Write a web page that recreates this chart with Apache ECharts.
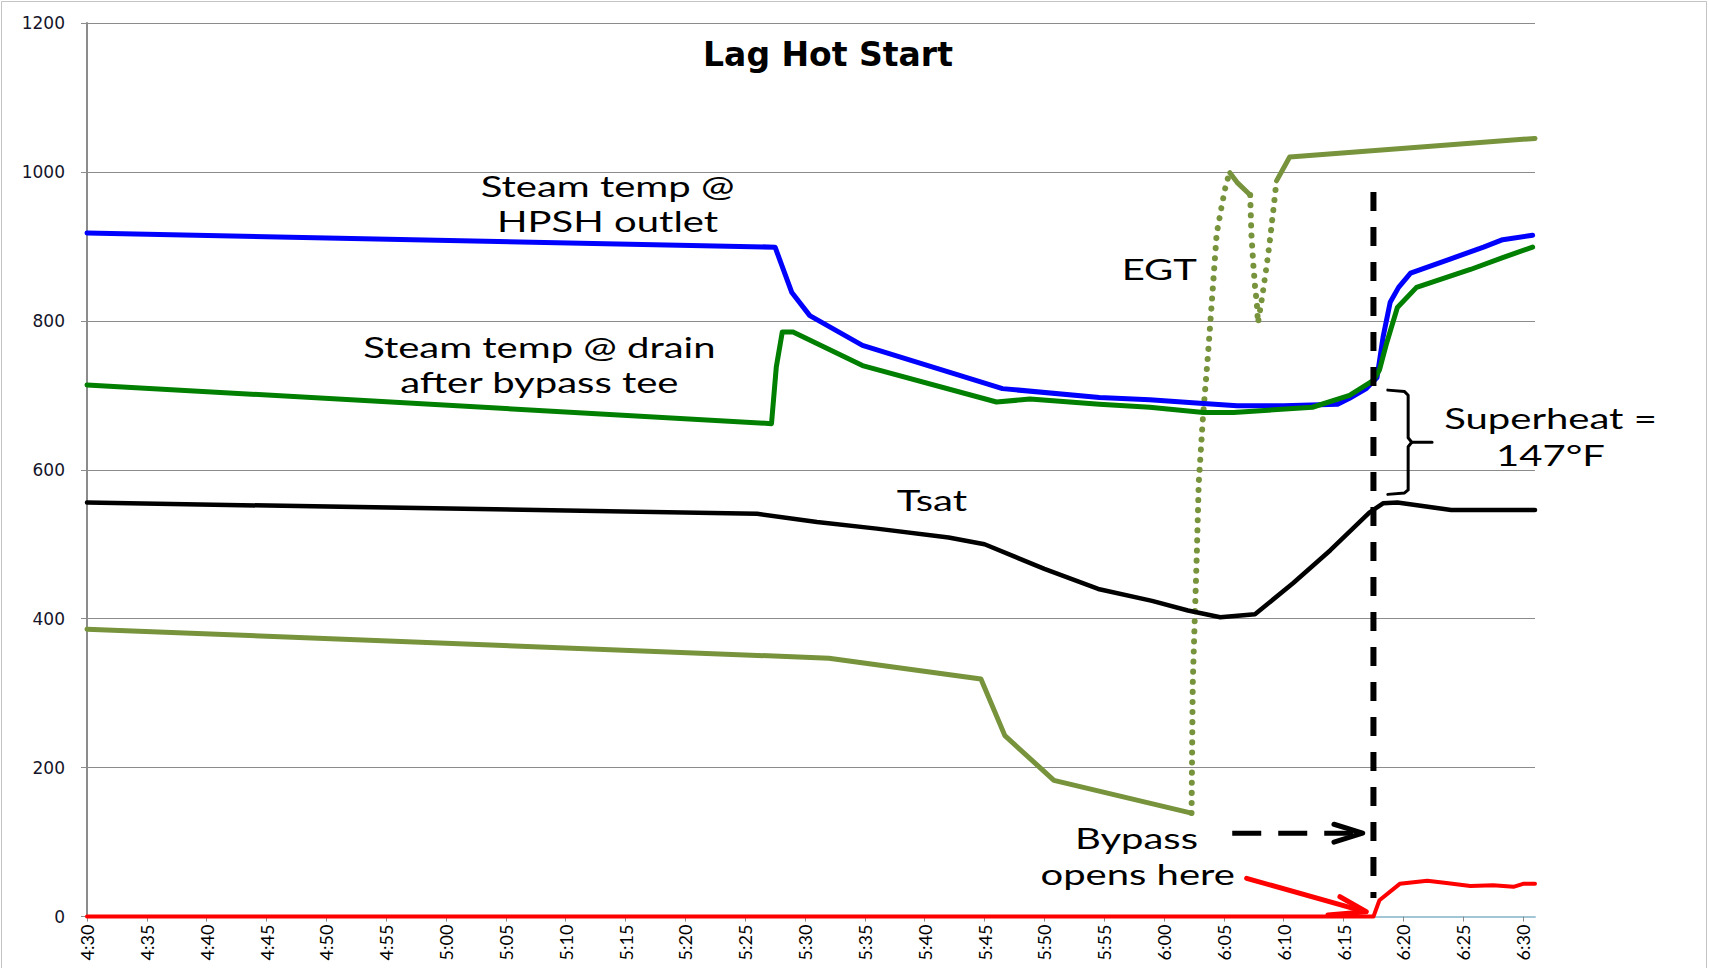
<!DOCTYPE html>
<html><head><meta charset="utf-8">
<script src="https://cdn.jsdelivr.net/npm/echarts@6/dist/echarts.min.js"></script>
<style>html,body{margin:0;padding:0;background:#fff}#c{width:1709px;height:968px}</style>
</head><body><div id="c"></div><script>
// x values are minutes after 4:30
const tickLabels = ['4:30','4:35','4:40','4:45','4:50','4:55','5:00','5:05','5:10','5:15','5:20','5:25','5:30','5:35','5:40','5:45','5:50','5:55','6:00','6:05','6:10','6:15','6:20','6:25','6:30'];
const yTicks = [0,200,400,600,800,1000,1200];

const hpshOutlet = [[0,918],[57.5,899],[58.9,838],[60.4,807],[64.8,767],[76.5,709],[84.6,697],[88.8,694],[93.3,689],[96.1,686],[100,686],[104.5,688],[105.5,696],[106.9,709],[107.8,724],[108.3,778],[108.9,825],[109.6,845],[110.6,864],[113.9,883],[116.7,899],[118.3,909],[120.8,915]];
const drainAfterTee = [[0,714],[57.2,662],[57.6,738],[58.1,785],[59,785],[64.8,740],[76,691],[78.8,695],[84.6,688],[88.8,684],[93.3,677],[95.8,677],[102.4,684],[105.5,700],[107.5,720],[108,734],[108.6,770],[109.5,818],[111.1,845],[115.6,869],[118.3,885],[120.8,899]];
const tsat = [[0,556],[56,541],[61,530],[66,521],[72,509],[75,500],[80,467],[84.5,440],[89,424],[92,411],[94.7,402],[97.6,406],[100.8,448],[103.9,492],[107.2,543],[108.3,555],[109.5,556],[114,546],[121,546]];
const egtSolid1 = [[0,386],[62,347],[74.7,319],[76.7,243],[80.8,183],[92.3,139]];
const egtDotted1 = [[92.3,139],[92.4,313],[92.75,493],[92.9,582],[93.25,670],[93.7,760],[94.1,849],[94.4,917],[94.85,957],[95.2,985],[95.5,999]];
const egtSolid2 = [[95.5,999],[96.1,986],[97.2,969]];
const egtDotted2 = [[97.2,969],[97.3,917],[97.45,878],[97.6,847],[97.75,825],[97.85,797],[98.2,832],[98.6,877],[98.85,908],[99.1,944],[99.4,988]];
const egtSolid3 = [[99.4,988],[100.5,1020],[121,1045]];
const bypassValve = [[0,0],[107.5,0],[108,22],[109.7,44],[112,48],[113.6,45],[115.6,41],[117.5,42],[119.2,40],[120,44],[121,44]];

// annotation geometry (data coordinates)
const bypassLine = [[107.5,973],[107.5,25]];
const dashArrow = [[95.7,112],[106.4,112]];
const dashArrowHead = [[104.2,124],[106.6,112],[104.2,100]];
const redArrow = [[96.9,51.4],[106.7,7]];
const redArrowHead = [[104.7,26.7],[106.9,6.6],[103.7,2.1]];
const braceTop = [[108.7,707],[110.1,705],[110.4,700],[110.4,643],[110.7,637],[112.4,637]];
const braceBottom = [[110.7,637],[110.4,631],[110.4,573],[110.1,569],[108.7,567]];
const noteTexts = ['Steam temp @','HPSH outlet','Steam temp @ drain','after bypass tee','EGT','Tsat','Superheat =','147°F','Bypass','opens here'];
const noteAnchors = [[43.5,981],[43.5,934],[37.8,765],[37.8,718],[89.6,870],[70.6,559],[122.3,670],[122.3,620],[87.7,106],[87.8,57]];

const OLIVE = '#77933C';
function lineSeries(name, data, color, width, type, z) {
  return {name, type:'line', data, symbol:'none', clip:false, z: z || 2, silent:true,
    lineStyle:{color, width, type: type || 'solid', cap:'round', join:'round'}};
}
const chart = echarts.init(document.getElementById('c'), null, {renderer:'svg'});
chart.setOption({
  animation:false,
  backgroundColor:'#fff',
  title:{text:'Lag Hot Start', left:823, top:33, textAlign:'center',
    textStyle:{fontFamily:'DejaVu Sans', fontWeight:'bold', fontSize:33, color:'#000'}},
  graphic:[{type:'rect', shape:{x:1.5,y:1.5,width:1705,height:1000}, style:{fill:null, stroke:'#c4c4c4', lineWidth:1}, silent:true}],
  grid:{left:87, right:174, top:23, bottom:51.4},
  xAxis:{type:'value', min:0, max:121,
    axisLine:{show:true, lineStyle:{color:'#a3c6d6', width:2}},
    axisTick:{show:true, length:5, lineStyle:{color:'#8a8a8a', width:1}, customValues: tickLabels.map((_, i) => i*5)},
    axisLabel:{rotate:90, margin:8, fontFamily:'Lato', fontSize:18, color:'#000',
      customValues: tickLabels.map((_, i) => i*5), formatter: v => tickLabels[Math.round(v/5)] || ''},
    splitLine:{show:false}},
  yAxis:{type:'value', min:yTicks[0], max:yTicks[yTicks.length-1], interval:200,
    axisLine:{show:true, lineStyle:{color:'#8c8c8c', width:2}},
    axisTick:{show:true, length:6, lineStyle:{color:'#8c8c8c'}},
    axisLabel:{margin:22, fontFamily:'DejaVu Sans', fontSize:17, color:'#14142a', formatter: v => String(v)},
    splitLine:{show:true, lineStyle:{color:'#8c8c8c', width:1}}},
  series:[
    lineSeries('EGT', egtSolid1, OLIVE, 5),
    lineSeries('EGT dotted', egtDotted1, OLIVE, 6, [0.1, 10]),
    lineSeries('EGT 2', egtSolid2, OLIVE, 5),
    lineSeries('EGT dotted 2', egtDotted2, OLIVE, 6, [0.1, 10]),
    lineSeries('EGT 3', egtSolid3, OLIVE, 5),
    lineSeries('Tsat', tsat, '#000000', 4.5),
    lineSeries('Steam temp @ HPSH outlet', hpshOutlet, '#0000FF', 5),
    lineSeries('Steam temp @ drain after bypass tee', drainAfterTee, '#007F00', 5, null, 3),
    lineSeries('Bypass valve', bypassValve, '#FF0000', 4, null, 4),
    {type:'line', data:bypassLine, symbol:'none', clip:false, z:6, silent:true,
      lineStyle:{color:'#000', width:6, type:[19,16], cap:'butt'}},
    {type:'line', data:dashArrow, symbol:'none', clip:false, z:6, silent:true,
      lineStyle:{color:'#000', width:5, type:[29,17], cap:'butt'}},
    lineSeries('arrow head', dashArrowHead, '#000', 5, null, 6),
    lineSeries('red arrow', redArrow, '#FF0000', 5, null, 6),
    lineSeries('red arrow head', redArrowHead, '#FF0000', 5, null, 6),
    lineSeries('brace top', braceTop, '#000', 3, null, 6),
    lineSeries('brace bottom', braceBottom, '#000', 3, null, 6),
    {type:'custom', clip:false, z:10, silent:true, data:noteAnchors,
      renderItem:(params, api) => {
        const p = api.coord([api.value(0), api.value(1)]);
        return {type:'text', x:p[0], y:p[1], scaleX:1.43,
          style:{text:noteTexts[params.dataIndex], fill:'#000', font:'28px Lato', align:'center', verticalAlign:'middle'}};
      }}
  ]
});
</script></body></html>
